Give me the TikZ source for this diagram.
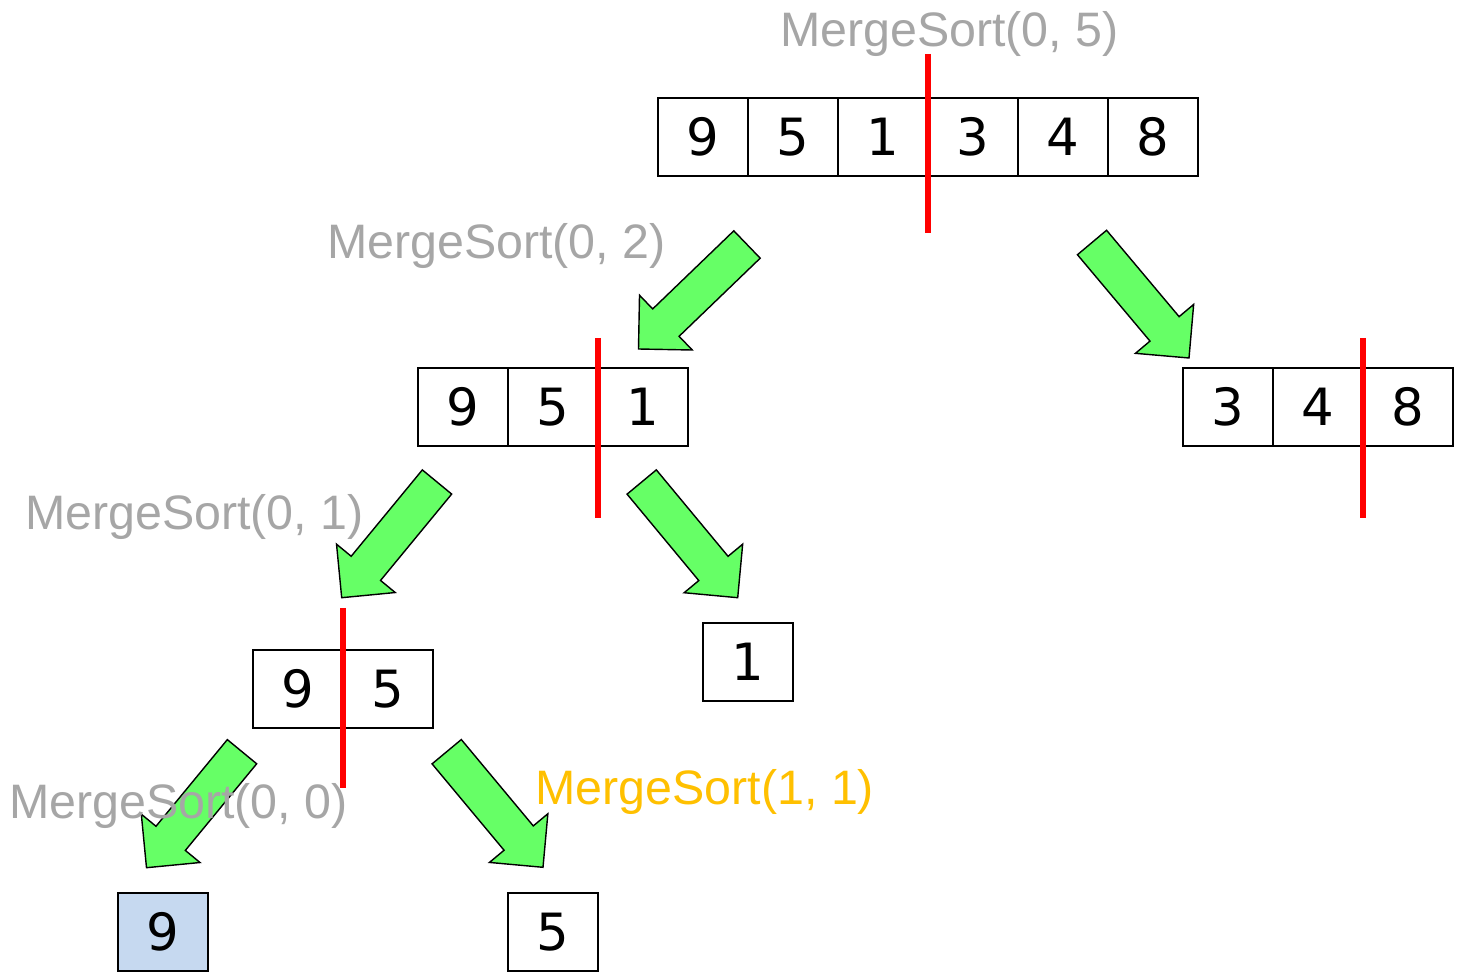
\documentclass[tikz,border=0pt]{standalone}
\usepackage{fontspec}
\setmainfont{DejaVu Sans}
\newfontfamily\labelfont{Liberation Sans}
\usetikzlibrary{calc}
\definecolor{lblgray}{HTML}{A6A6A6}
\definecolor{lblorange}{HTML}{FFC000}
\definecolor{arrgreen}{HTML}{66FF66}
\definecolor{cellblue}{HTML}{C6D9F0}
\newcommand\garrow[3]{%
  \coordinate (#1t) at #2;
  \coordinate (#1h) at #3;
  \coordinate (#1b) at ($(#1h)!0.38cm!(#1t)$);
  \draw[bigarrow] ($(#1t)!0.19cm!90:(#1h)$) -- ($(#1b)!0.19cm!90:(#1h)$) -- ($(#1b)!0.38cm!90:(#1h)$) -- (#1h) -- ($(#1b)!0.38cm!-90:(#1h)$) -- ($(#1b)!0.19cm!-90:(#1h)$) -- ($(#1t)!0.19cm!-90:(#1h)$) -- cycle;}
\begin{document}
\begin{tikzpicture}[x=0.01cm,y=-0.01cm,
  cell/.style={draw, line width=0.5pt, minimum width=0.9cm, minimum height=0.78cm, inner sep=0pt, outer sep=0pt, font=\fontsize{14.6}{18}\selectfont},
  lbl/.style={anchor=base west, inner sep=0pt, outer sep=0pt, font=\labelfont\fontsize{13.75}{16}\selectfont, text=lblgray},
  split/.style={draw=red, line width=0.055cm},
  bigarrow/.style={fill=arrgreen, draw=black, line width=0.4pt, line join=miter}]
\fill[white] (0,0) rectangle (1460,973);
\useasboundingbox (0,0) rectangle (1460,973);
% top array
\node[cell] (t0) at (703,137) {9};
\node[cell] (t1) at (793,137) {5};
\node[cell] (t2) at (883,137) {1};
\node[cell] (t3) at (973,137) {3};
\node[cell] (t4) at (1063,137) {4};
\node[cell] (t5) at (1153,137) {8};
% left half
\node[cell] (a0) at (463,407) {9};
\node[cell] (a1) at (553,407) {5};
\node[cell] (a2) at (643,407) {1};
% right half
\node[cell] (b0) at (1228,407) {3};
\node[cell] (b1) at (1318,407) {4};
\node[cell] (b2) at (1408,407) {8};
% 9 5
\node[cell] (c0) at (298,689) {9};
\node[cell] (c1) at (388,689) {5};
% 1
\node[cell] (d0) at (748,662) {1};
% leaves
\node[cell, fill=cellblue] (e0) at (163,932) {9};
\node[cell] (f0) at (553,932) {5};
% split lines
\draw[split] ($(t2.north east)+(0,-44)$) -- ($(t2.south east)+(0,57)$);
\draw[split] ($(a1.north east)+(0,-30)$) -- ($(a1.south east)+(0,72)$);
\draw[split] ($(b1.north east)+(0,-30)$) -- ($(b1.south east)+(0,72)$);
\draw[split] ($(c0.north east)+(0,-42)$) -- ($(c0.south east)+(0,60)$);
% arrows
\garrow{g1}{(747,244.5)}{(638.5,349)}
\garrow{g2}{(1092,242.5)}{(1189,358)}
\garrow{g3}{(437,482)}{(341.7,597.7)}
\garrow{g4}{(641.7,482)}{(737.7,597.7)}
\garrow{g5}{(242,751.7)}{(146.5,867.7)}
\garrow{g6}{(446.7,751.7)}{(543,867.3)}
% labels
\node[lbl] (l05) at (780,46.7) {MergeSort(0, 5)};
\node[lbl] (l02) at (327,258.3) {MergeSort(0, 2)};
\node[lbl] (l01) at (25,529.3) {MergeSort(0, 1)};
\node[lbl] (l00) at (9,818.3) {MergeSort(0, 0)};
\node[lbl, text=lblorange] (l11) at (535.5,804) {MergeSort(1, 1)};
\end{tikzpicture}
\end{document}
